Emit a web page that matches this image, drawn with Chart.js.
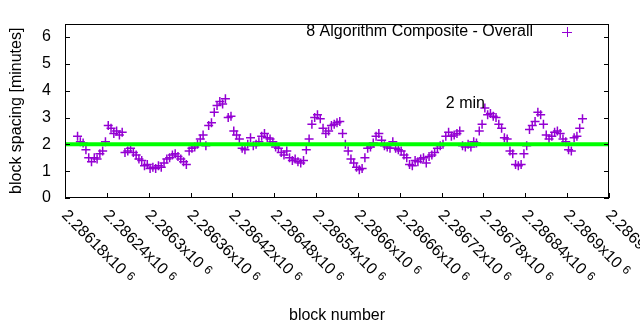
<!DOCTYPE html>
<html>
<head>
<meta charset="utf-8">
<script src="https://cdn.jsdelivr.net/npm/chart.js@4.4.0/dist/chart.umd.min.js"></script>
<style>
  html, body { margin: 0; padding: 0; background: #fff; }
  #wrap { width: 640px; height: 330px; }
</style>
</head>
<body>
<div id="wrap"><canvas id="grafico"></canvas></div>
<script>
// Datos
const blocks = [
    2286198, 2286202, 2286206, 2286210, 2286214, 2286218, 2286222, 2286226, 2286230, 2286234,
    2286238, 2286242, 2286246, 2286250, 2286254, 2286258, 2286262, 2286266, 2286270, 2286274,
    2286278, 2286282, 2286286, 2286290, 2286294, 2286298, 2286302, 2286306, 2286310, 2286314,
    2286318, 2286322, 2286326, 2286330, 2286334, 2286338, 2286342, 2286346, 2286350, 2286354,
    2286358, 2286362, 2286366, 2286370, 2286374, 2286378, 2286382, 2286386, 2286390, 2286394,
    2286398, 2286402, 2286406, 2286410, 2286414, 2286418, 2286422, 2286426, 2286430, 2286434,
    2286438, 2286442, 2286446, 2286450, 2286454, 2286458, 2286462, 2286466, 2286470, 2286474,
    2286478, 2286482, 2286486, 2286490, 2286494, 2286498, 2286502, 2286506, 2286510, 2286514,
    2286518, 2286522, 2286526, 2286530, 2286534, 2286538, 2286542, 2286546, 2286550, 2286554,
    2286558, 2286562, 2286566, 2286570, 2286574, 2286578, 2286582, 2286586, 2286590, 2286594,
    2286598, 2286602, 2286606, 2286610, 2286614, 2286618, 2286622, 2286626, 2286630, 2286634,
    2286638, 2286642, 2286646, 2286650, 2286654, 2286658, 2286662, 2286666, 2286670, 2286674,
    2286678, 2286682, 2286686, 2286690, 2286694, 2286698, 2286702, 2286706, 2286710, 2286714,
    2286718, 2286722, 2286726, 2286730, 2286734, 2286738, 2286742, 2286746, 2286750, 2286754,
    2286758, 2286762, 2286766, 2286770, 2286774, 2286778, 2286782, 2286786, 2286790, 2286794,
    2286798, 2286802, 2286806, 2286810, 2286814, 2286818, 2286822, 2286826, 2286830, 2286834,
    2286838, 2286842, 2286846, 2286850, 2286854, 2286858, 2286862, 2286866, 2286870, 2286874,
    2286878, 2286882, 2286886, 2286890, 2286894, 2286898, 2286902, 2286906, 2286910, 2286914,
    2286918, 2286922
];

const spacing = [
    2.3, 2.1, 2.05, 1.8, 1.5, 1.35, 1.5, 1.45, 1.65, 1.75,
    2.1, 2.7, 2.6, 2.4, 2.5, 2.35, 2.45, 1.7, 1.75, 1.85,
    1.7, 1.6, 1.45, 1.4, 1.2, 1.25, 1.1, 1.15, 1.1, 1.2,
    1.15, 1.3, 1.45, 1.5, 1.6, 1.65, 1.55, 1.45, 1.35, 1.25,
    1.75, 1.85, 1.9, 2.0, 2.2, 2.35, 1.95, 2.7, 2.8, 3.2,
    3.45, 3.6, 3.5, 3.7, 3.0, 3.05, 2.5, 2.35, 2.2, 1.85,
    1.8, 2.0, 2.25, 1.95, 2.0, 2.1, 2.3, 2.4, 2.25, 2.2,
    2.1, 1.9, 1.85, 1.7, 1.6, 1.75, 1.5, 1.4, 1.45, 1.35,
    1.3, 1.4, 1.8, 2.2, 2.75, 3.0, 3.1, 2.95, 2.6, 2.4,
    2.5, 2.7, 2.75, 2.8, 2.85, 2.4, 2.0, 1.75, 1.45, 1.3,
    1.15, 1.05, 1.1, 1.5, 1.85, 1.9, 2.05, 2.3, 2.4, 2.15,
    1.95, 1.9, 1.85, 2.1, 1.85, 1.8, 1.75, 1.6, 1.5, 1.25,
    1.2, 1.4, 1.35, 1.45, 1.5, 1.3, 1.55, 1.6, 1.7, 1.85,
    1.95, 2.0, 2.3, 2.45, 2.3, 2.35, 2.4, 2.5, 1.95, 1.9,
    2.0, 1.9, 2.1, 2.05, 2.5, 2.75, 3.35, 3.1, 3.15, 3.05,
    3.0, 2.75, 2.6, 2.25, 2.2, 1.75, 1.65, 1.25, 1.2, 1.25,
    1.65, 1.95, 2.55, 2.7, 2.85, 3.2, 3.1, 2.75, 2.35, 2.2,
    2.3, 2.45, 2.5, 2.4, 2.2, 2.1, 1.8, 1.75, 2.25, 2.3,
    2.6, 2.95
];

const targetSpacing = 2;
const xTickValues = [2286180, 2286240, 2286300, 2286360, 2286420, 2286480, 2286540,
    2286600, 2286660, 2286720, 2286780, 2286840, 2286900, 2286960];
const xTickLabels = ['2.28618', '2.28624', '2.2863', '2.28636', '2.28642', '2.28648', '2.28654',
    '2.2866', '2.28666', '2.28672', '2.28678', '2.28684', '2.2869', '2.28696'];
const yTickValues = [0, 1, 2, 3, 4, 5, 6];
const serieNombre = '8 Algorithm Composite - Overall';
const notaTexto = '2 min';
const notaBloque = 2286726;
const notaValor = 3.5;

const FUENTE = '"Liberation Sans", Arial, sans-serif';
const MORADO = '#9400d3';
const VERDE = '#00ff00';

// Ejes con marcas hacia dentro, etiquetas giradas, leyenda y nota
const estiloGnuplot = {
    id: 'estiloGnuplot',
    afterDraw(chart) {
        const ctx = chart.ctx;
        const area = chart.chartArea;
        const x = chart.scales.x;
        const y = chart.scales.y;
        ctx.save();
        ctx.strokeStyle = '#000';
        ctx.lineWidth = 1;
        ctx.strokeRect(Math.round(area.left) + 0.5, Math.round(area.top) + 0.5,
            Math.round(area.right - area.left) - 1, Math.round(area.bottom - area.top) - 1);

        ctx.beginPath();
        yTickValues.forEach(v => {
            const py = Math.round(y.getPixelForValue(v)) + 0.5;
            ctx.moveTo(area.left, py); ctx.lineTo(area.left + 5, py);
            ctx.moveTo(area.right, py); ctx.lineTo(area.right - 5, py);
        });
        xTickValues.forEach(v => {
            const px = Math.round(x.getPixelForValue(v)) + 0.5;
            ctx.moveTo(px, area.bottom); ctx.lineTo(px, area.bottom - 5);
        });
        ctx.stroke();

        // etiquetas del eje x
        ctx.fillStyle = '#000';
        xTickValues.forEach((v, i) => {
            const px = x.getPixelForValue(v);
            ctx.save();
            ctx.translate(px - 1, area.bottom + 15);
            ctx.rotate(Math.PI / 4);
            ctx.font = '16px ' + FUENTE;
            ctx.textAlign = 'left';
            ctx.textBaseline = 'middle';
            const txt = xTickLabels[i] + 'x10';
            ctx.fillText(txt, 0, 0);
            const w = ctx.measureText(txt).width;
            ctx.font = '12px ' + FUENTE;
            ctx.fillText('6', w + 5, -2);
            ctx.restore();
        });

        // leyenda
        ctx.font = '16px ' + FUENTE;
        ctx.textAlign = 'right';
        ctx.textBaseline = 'middle';
        ctx.fillText(serieNombre, 533, 32);
        ctx.strokeStyle = MORADO;
        ctx.beginPath();
        ctx.moveTo(562, 32.5); ctx.lineTo(572, 32.5);
        ctx.moveTo(567.5, 27); ctx.lineTo(567.5, 37);
        ctx.stroke();

        // nota "2 min"
        ctx.textAlign = 'left';
        ctx.fillText(notaTexto, x.getPixelForValue(notaBloque), y.getPixelForValue(notaValor));
        ctx.restore();
    }
};

new Chart(document.getElementById('grafico'), {
    type: 'scatter',
    data: {
        datasets: [{
            label: 'objetivo',
            type: 'line',
            data: [{ x: xTickValues[0], y: targetSpacing }, { x: xTickValues[xTickValues.length - 1], y: targetSpacing }],
            borderColor: VERDE,
            borderWidth: 4,
            pointRadius: 0,
            fill: false,
            order: 0
        }, {
            label: serieNombre,
            data: blocks.map((b, i) => ({ x: b, y: spacing[i] })),
            pointStyle: 'cross',
            pointRadius: 4.5,
            pointBorderWidth: 1.5,
            borderColor: MORADO,
            backgroundColor: MORADO,
            order: 1
        }]
    },
    options: {
        responsive: true,
        maintainAspectRatio: false,
        animation: false,
        layout: { padding: { top: 19, right: 31, left: 0, bottom: 0 } },
        plugins: { legend: { display: false }, tooltip: { enabled: false } },
        scales: {
            x: {
                type: 'linear',
                min: 2286180,
                max: 2286960,
                grid: { display: false },
                border: { display: false },
                ticks: { display: false },
                afterBuildTicks: scale => { scale.ticks = xTickValues.map(v => ({ value: v })); },
                afterFit: scale => { scale.height = 132; },
                title: {
                    display: true,
                    text: 'block number',
                    color: '#000',
                    font: { family: FUENTE, size: 16 },
                    padding: { top: 0, bottom: 5 }
                }
            },
            y: {
                min: 0,
                max: 6.5,
                grid: { display: false, drawTicks: false },
                border: { display: false },
                afterBuildTicks: scale => { scale.ticks = yTickValues.map(v => ({ value: v })); },
                afterFit: scale => { scale.width = 65; },
                ticks: {
                    color: '#000',
                    padding: 14,
                    font: { family: FUENTE, size: 16 }
                },
                title: {
                    display: true,
                    text: 'block spacing [minutes]',
                    color: '#000',
                    font: { family: FUENTE, size: 16 },
                    padding: { top: 7, bottom: 0 }
                }
            }
        }
    },
    plugins: [estiloGnuplot]
});
</script>
</body>
</html>
